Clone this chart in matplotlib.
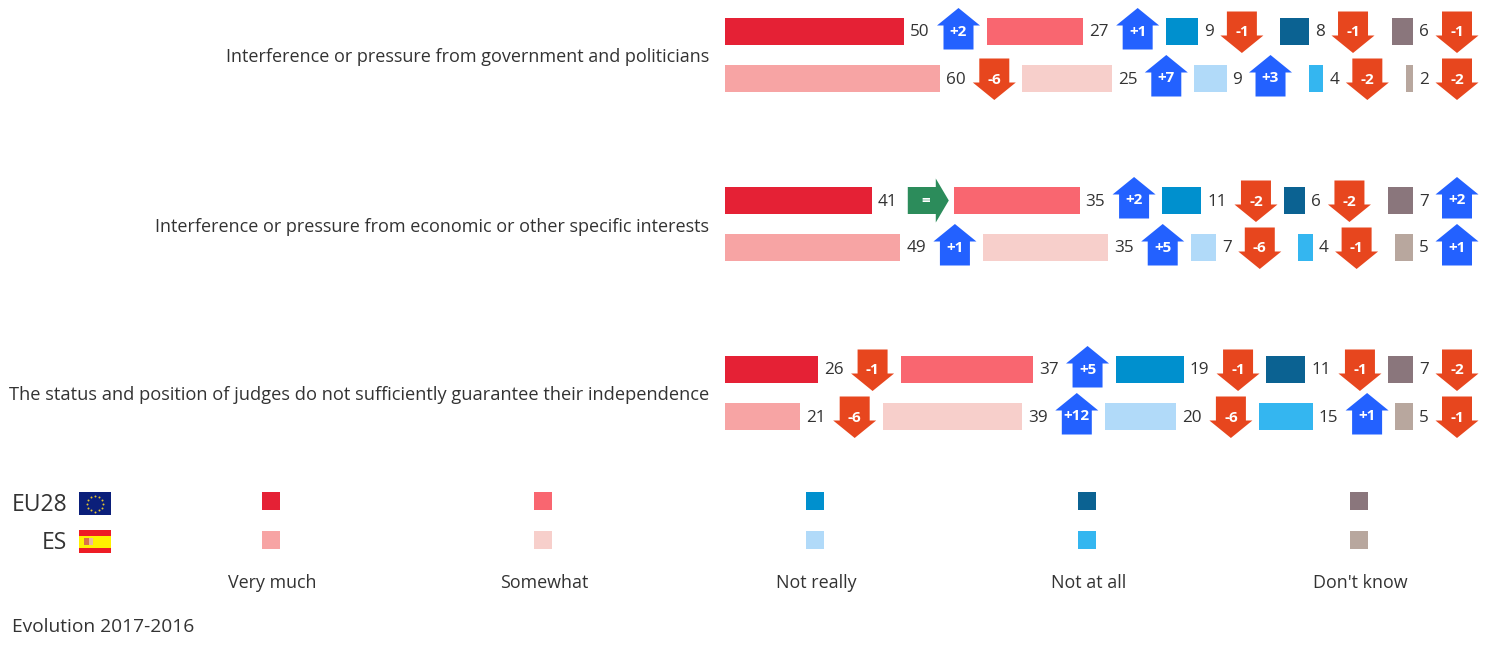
import numpy as np
import matplotlib
matplotlib.use('Agg')
import matplotlib.pyplot as plt
from matplotlib.patches import Polygon, Rectangle

plt.rcParams['font.family'] = ['Open Sans', 'DejaVu Sans']

preguntas = ['Interference or pressure from government and politicians',
             'Interference or pressure from economic or other specific interests',
             'The status and position of judges do not sufficiently guarantee their independence']
categorias = ['Very much', 'Somewhat', 'Not really', 'Not at all', "Don't know"]

valores_eu = [[50, 27, 9, 8, 6], [41, 35, 11, 6, 7], [26, 37, 19, 11, 7]]
valores_es = [[60, 25, 9, 4, 2], [49, 35, 7, 4, 5], [21, 39, 20, 15, 5]]
cambio_eu = [[2, 1, -1, -1, -1], [0, 2, -2, -2, 2], [-1, 5, -1, -1, -2]]
cambio_es = [[-6, 7, 3, -2, -2], [1, 5, -6, -1, 1], [-6, 12, -6, 1, -1]]

colores_eu = ['#E52135', '#F96670', '#0090CE', '#0B6292', '#8A767C']
colores_es = ['#F7A4A4', '#F7CFCB', '#B1DAF9', '#34B6F0', '#B8A79E']
azul, rojo, verde = '#2361FF', '#E7461E', '#2C8C5B'
gris = '#333333'

# everything is placed in pixels of the figure
fig = plt.figure(figsize=(14.89, 6.57), dpi=100)
ax = fig.add_axes([0, 0, 1, 1])
ax.set_xlim(0, 1489)
ax.set_ylim(657, 0)
ax.axis('off')

escala = 3.58
inicio = 725
hueco = 82.5
tam_preguntas = [12.95, 13.0, 13.18]


def flecha(x, y, d):
    if d > 0:
        forma = [(0, -23.5), (21.5, -6), (15, -6), (15, 18), (-15, 18), (-15, -6), (-21.5, -6)]
        color = azul
        ty = y
        txt = '+%d' % d
    elif d < 0:
        forma = [(0, 21.5), (21.5, 4), (15, 4), (15, -20), (-15, -20), (-15, 4), (-21.5, 4)]
        color = rojo
        ty = y + 1
        txt = '-%d' % -d
    else:
        forma = [(21, 0), (8, 22), (8, 13.5), (-20, 13.5), (-20, -13.5), (8, -13.5), (8, -22)]
        color = verde
        ty = y
        txt = '='
    ax.add_patch(Polygon([(x + a, y + b) for a, b in forma], closed=True, color=color, lw=0))
    ax.text(x - (2 if d == 0 else 0), ty, txt, color='white', fontsize=11, fontweight='bold',
            ha='center', va='center')


def fila(valores, cambios, colores, y):
    x = inicio
    for v, d, c in zip(valores, cambios, colores):
        ancho = v * escala
        ax.barh(y, ancho, height=27, left=x, color=c)
        ax.text(x + ancho + 6, y + 1, str(v), color=gris, fontsize=12.3, va='center', ha='left')
        if d == 0:
            sep = 56
        else:
            sep = 54.5 if v >= 10 else 44
        flecha(x + ancho + sep, y, d)
        x = x + ancho + hueco


for i, p in enumerate(preguntas):
    y = 31.5 + 169 * i
    fila(valores_eu[i], cambio_eu[i], colores_eu, y)
    fila(valores_es[i], cambio_es[i], colores_es, y + 47)
    ax.text(709, y + 31, p, color=gris, fontsize=tam_preguntas[i], ha='right', va='baseline')

# legend
for i, cat in enumerate(categorias):
    xc = 271 + 272 * i
    ax.add_patch(Rectangle((xc - 9, 492), 18, 18, color=colores_eu[i], lw=0))
    ax.add_patch(Rectangle((xc - 9, 530.5), 18, 18, color=colores_es[i], lw=0))
    ax.text(xc + 1.5, 588, cat, color=gris, fontsize=12.9, ha='center', va='baseline')

ax.text(67, 505, 'EU28', color=gris, fontsize=16.5, ha='right', va='center')
ax.text(67, 543, 'ES', color=gris, fontsize=16.5, ha='right', va='center')
ax.text(12, 632, 'Evolution 2017-2016', color=gris, fontsize=13.8, ha='left', va='baseline')

# flags
ax.add_patch(Rectangle((79, 492), 32, 23, color='#0B1F7A', lw=0))
ang = np.arange(12) * np.pi / 6
ax.scatter(95 + 8 * np.cos(ang), 503.5 + 8 * np.sin(ang), s=2, color='#E4C52F', linewidths=0)
ax.add_patch(Rectangle((79, 530), 32, 23, color='#EE1C25', lw=0))
ax.add_patch(Rectangle((79, 535.5), 32, 12, color='#FFF200', lw=0))
ax.add_patch(Rectangle((84, 538), 4.5, 7, color='#D9714A', lw=0))
ax.add_patch(Rectangle((88.5, 538), 4.5, 7, color='#E8B9A0', lw=0))

fig.savefig('out.png', dpi=100)
